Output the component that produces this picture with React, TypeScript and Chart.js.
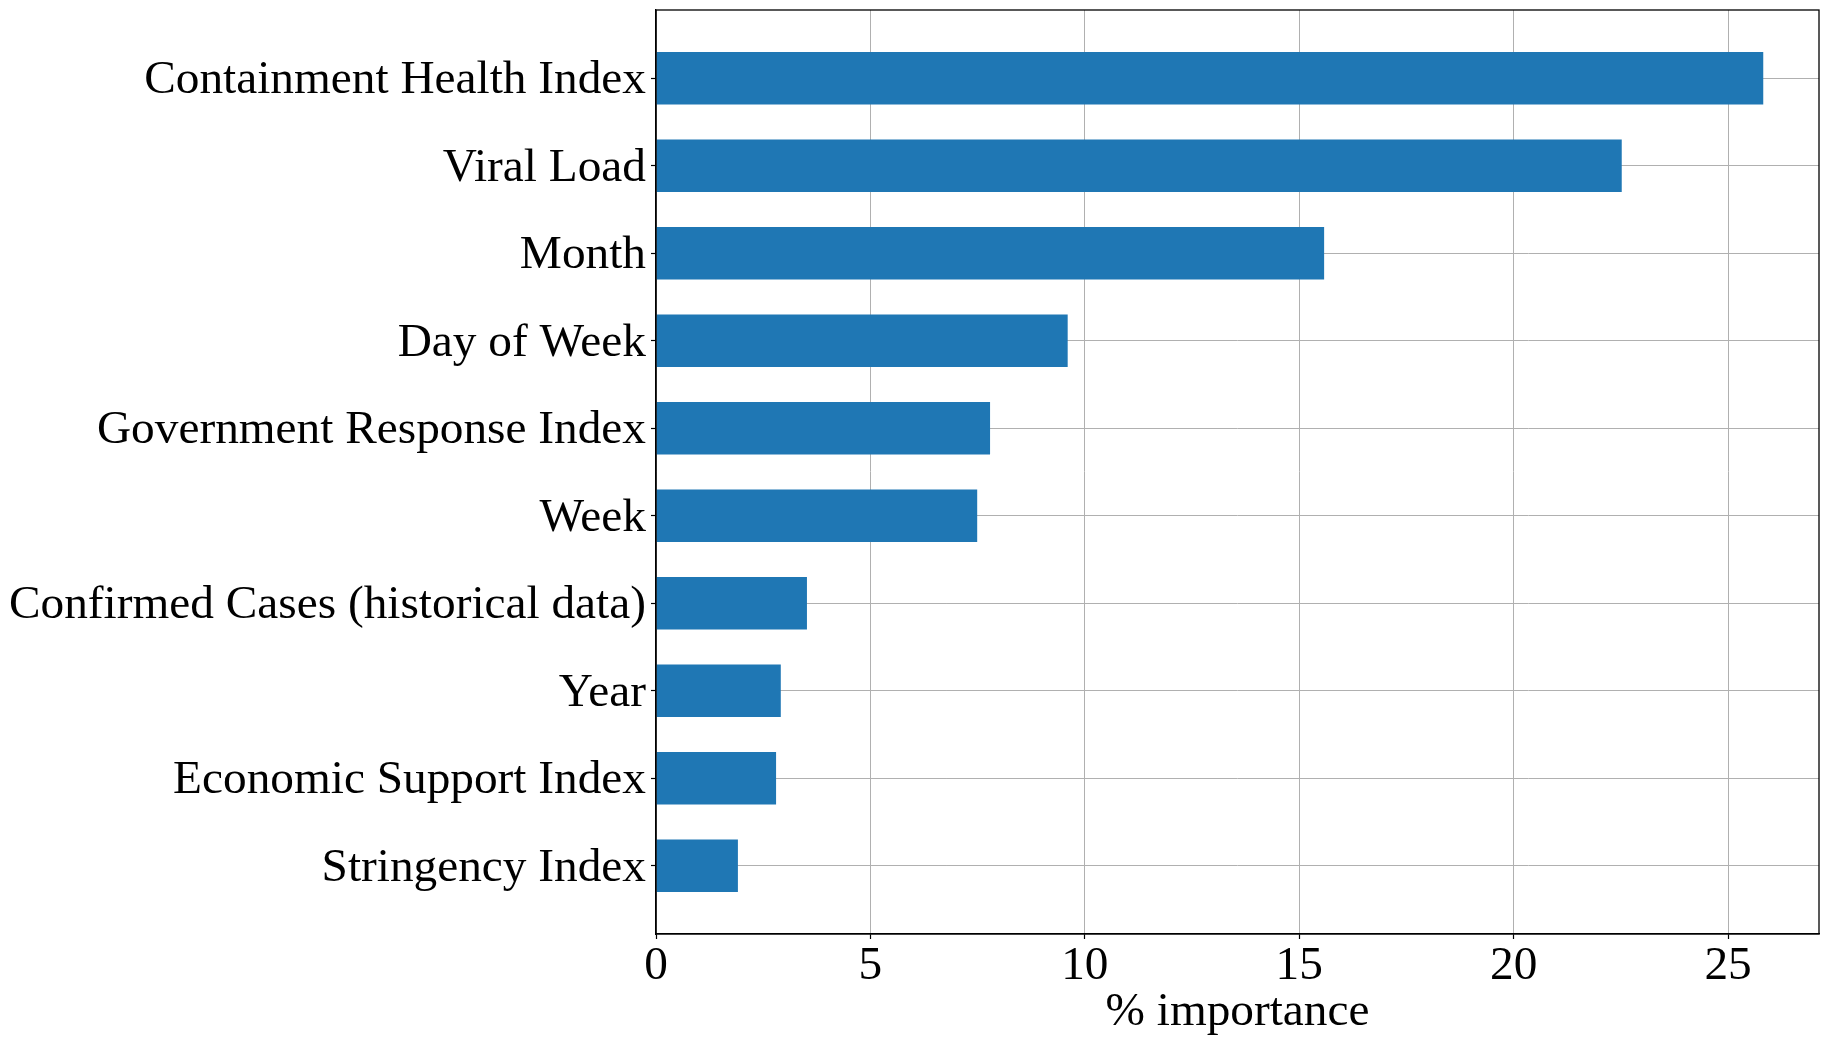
import { useEffect, useRef } from "react";
import { Chart, registerables } from "chart.js";

Chart.register(...registerables);

const categories = [
  "Containment Health Index",
  "Viral Load",
  "Month",
  "Day of Week",
  "Government Response Index",
  "Week",
  "Confirmed Cases (historical data)",
  "Year",
  "Economic Support Index",
  "Stringency Index",
];
const importance = [25.82, 22.52, 15.58, 9.6, 7.79, 7.49, 3.52, 2.91, 2.8, 1.91];
const xTickValues = [0, 5, 10, 15, 20, 25];
const xLimit = 27.12;
const yLower = -0.78;
const yUpper = 9.78;

const FONT = "'Liberation Serif', 'Times New Roman', serif";
const FONT_SIZE = 47.3;

const framePlugin = {
  id: "frame",
  afterDraw(chart: any) {
    const { ctx, chartArea } = chart;
    ctx.save();
    ctx.strokeStyle = "#000";
    ctx.lineWidth = 1.3;
    ctx.strokeRect(chartArea.left, chartArea.top, chartArea.right - chartArea.left, chartArea.bottom - chartArea.top);
    ctx.restore();
  },
};

export default function App() {
  const ref = useRef<HTMLCanvasElement | null>(null);

  useEffect(() => {
    if (!ref.current) return;
    const chart = new Chart(ref.current, {
      type: "bar",
      data: {
        datasets: [
          {
            data: categories.map((_, i) => ({ x: importance[i], y: i })),
            backgroundColor: "#1f77b4",
            borderWidth: 0,
            barPercentage: 0.6,
            categoryPercentage: 1,
          },
        ],
      },
      plugins: [framePlugin],
      options: {
        indexAxis: "y",
        responsive: false,
        animation: false,
        devicePixelRatio: 1,
        layout: { padding: { left: 0, top: 10, right: 9, bottom: 0 } },
        plugins: { legend: { display: false }, tooltip: { enabled: false } },
        scales: {
          x: {
            type: "linear",
            position: "bottom",
            min: 0,
            max: xLimit,
            offset: false,
            z: 1,
            afterBuildTicks: (s: any) => {
              s.ticks = xTickValues.map((v) => ({ value: v }));
            },
            afterFit: (s: any) => {
              s.height = 111;
              s.paddingLeft = 0;
              s.paddingRight = 0;
            },
            grid: { offset: false, color: "#b0b0b0", lineWidth: 1, tickColor: "#000", tickLength: 5, tickWidth: 1.2 },
            border: { color: "#000", width: 1.3 },
            ticks: { font: { family: FONT, size: FONT_SIZE }, color: "#000", padding: -1, maxRotation: 0 },
            title: {
              display: true,
              text: "% importance",
              font: { family: FONT, size: FONT_SIZE },
              color: "#000",
              padding: { top: 0, bottom: 4 },
            },
          },
          y: {
            type: "linear",
            reverse: true,
            min: yLower,
            max: yUpper,
            offset: false,
            z: 1,
            afterBuildTicks: (s: any) => {
              s.ticks = categories.map((_, i) => ({ value: i }));
            },
            afterFit: (s: any) => {
              s.width = 656;
              s.paddingTop = 0;
              s.paddingBottom = 0;
            },
            grid: { offset: false, color: "#b0b0b0", lineWidth: 1, tickColor: "#000", tickLength: 5, tickWidth: 1.2 },
            border: { color: "#000", width: 1.3 },
            ticks: {
              font: { family: FONT, size: FONT_SIZE },
              color: "#000",
              padding: 5,
              labelOffset: 2.5,
              autoSkip: false,
              callback: (v: any) => categories[Math.round(Number(v))] ?? "",
            },
          },
        },
      } as any,
    });
    return () => chart.destroy();
  }, []);

  return (
    <div style={{ position: "absolute", left: 0, top: 0, width: 1828, height: 1045, background: "#fff" }}>
      <canvas ref={ref} width={1828} height={1045} style={{ display: "block" }} />
    </div>
  );
}
